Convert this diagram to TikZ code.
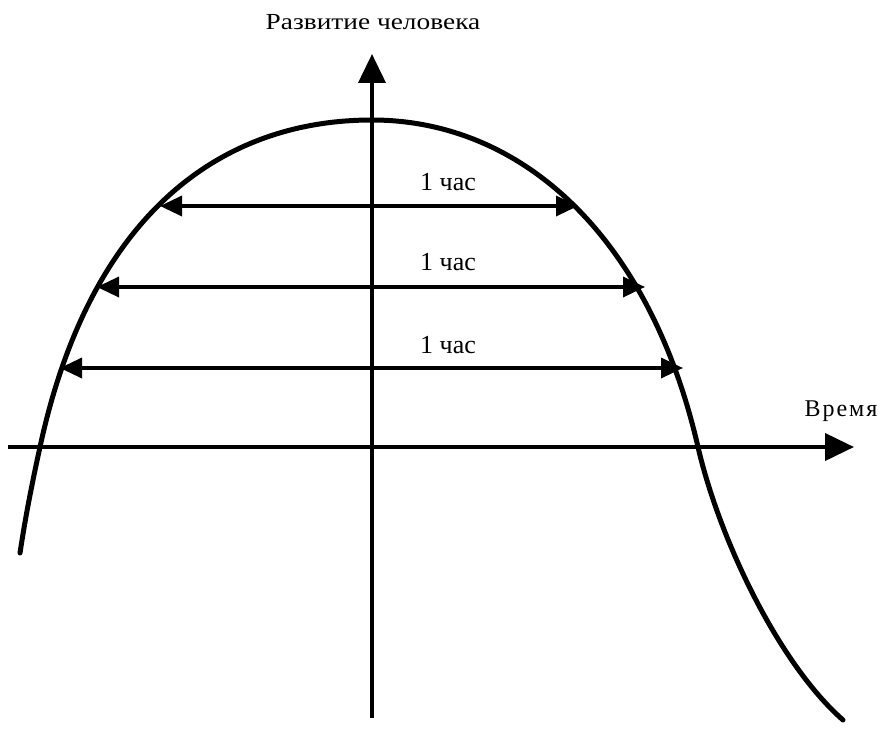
\documentclass[tikz,border=0pt]{standalone}
\usepackage{fontspec}
\setmainfont{Liberation Serif}
\usetikzlibrary{arrows.meta}
\begin{document}
\begin{tikzpicture}[x=1pt,y=-1pt,
  axis/.style={line width=4pt,-{Triangle[length=29pt,width=27pt]}},
  span/.style={line width=3.5pt,{Triangle[length=22pt,width=20pt]}-{Triangle[length=22pt,width=20pt]}},
  curve/.style={line width=5pt},
  lbl/.style={font=\fontsize{26}{28}\selectfont,inner sep=0pt}]
\useasboundingbox (0,0) rectangle (885,730);
\coordinate (vb) at (372,718);
\coordinate (vt) at (372,54);
\coordinate (hl) at (8,447);
\coordinate (hr) at (854,447);
\draw[axis] (vb) -- (vt);
\draw[axis] (hl) -- (hr);
\coordinate (c0) at (20,553);
\coordinate (c1) at (40,447);
\coordinate (top) at (372,120);
\coordinate (c2) at (698,447);
\coordinate (c3) at (843,720);
\draw[curve,line cap=round] (c0) .. controls (25,520) and (31,488) .. (c1)
  .. controls (90,215) and (220,120) .. (top)
  .. controls (520,120) and (649,234) .. (c2)
  .. controls (719,538) and (778,663) .. (c3);
\coordinate (a1) at (160,206); \coordinate (b1) at (578,206);
\coordinate (a2) at (97,287); \coordinate (b2) at (645,287);
\coordinate (a3) at (60,368); \coordinate (b3) at (683,368);
\draw[span] (a1) -- (b1);
\draw[span] (a2) -- (b2);
\draw[span] (a3) -- (b3);
\node[lbl] (l1) at (448,182) {1 час};
\node[lbl] (l2) at (448,262) {1 час};
\node[lbl] (l3) at (448,345) {1 час};
\node[inner sep=0pt,font=\fontsize{23}{25}\selectfont,xscale=1.19] (ty) at (373,22) {Развитие человека};
\node[inner sep=0pt,font=\fontsize{24}{26}\selectfont] (tx) at (841,411) {В\kern2pt р\kern2pt е\kern2pt м\kern2pt я};
\end{tikzpicture}
\end{document}
